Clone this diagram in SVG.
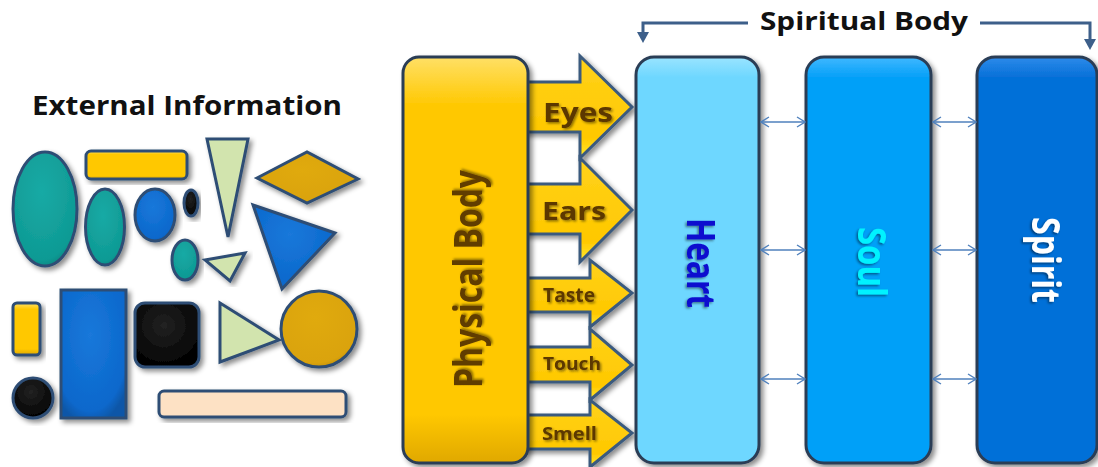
<svg xmlns="http://www.w3.org/2000/svg" width="1098" height="467" viewBox="0 0 1098 467">
<defs>
  <filter id="sh" x="-20%" y="-20%" width="140%" height="140%">
    <feDropShadow dx="3" dy="3" stdDeviation="2.5" flood-color="#000" flood-opacity="0.45"/>
  </filter>
  <filter id="tsh" x="-20%" y="-20%" width="140%" height="140%">
    <feDropShadow dx="1.5" dy="1.5" stdDeviation="1" flood-color="#000" flood-opacity="0.45"/>
  </filter>
  <linearGradient id="gGold" x1="0" y1="0" x2="0" y2="1">
    <stop offset="0" stop-color="#FFE066"/><stop offset="0.12" stop-color="#FFC800"/><stop offset="0.88" stop-color="#FFC800"/><stop offset="1" stop-color="#E0A800"/>
  </linearGradient>
  <linearGradient id="gArrow" x1="0" y1="0" x2="0" y2="1">
    <stop offset="0" stop-color="#FFD21A"/><stop offset="0.8" stop-color="#FFC800"/><stop offset="1" stop-color="#FFEA30"/>
  </linearGradient>
  <linearGradient id="gHeart" x1="0" y1="0" x2="0" y2="1">
    <stop offset="0" stop-color="#9AE4FF"/><stop offset="0.05" stop-color="#6ED7FF"/><stop offset="1" stop-color="#6ED7FF"/>
  </linearGradient>
  <linearGradient id="gSoul" x1="0" y1="0" x2="0" y2="1">
    <stop offset="0" stop-color="#40B8FF"/><stop offset="0.05" stop-color="#06A0F8"/><stop offset="1" stop-color="#06A0F8"/>
  </linearGradient>
  <linearGradient id="gSpirit" x1="0" y1="0" x2="0" y2="1">
    <stop offset="0" stop-color="#2E8BEA"/><stop offset="0.05" stop-color="#0670D8"/><stop offset="1" stop-color="#0670D8"/>
  </linearGradient>
  <radialGradient id="gTeal" cx="0.45" cy="0.35" r="0.7">
    <stop offset="0" stop-color="#19AAA5"/><stop offset="0.85" stop-color="#0E9A94"/><stop offset="1" stop-color="#0A7F7A"/>
  </radialGradient>
  <radialGradient id="gBlue" cx="0.45" cy="0.35" r="0.7">
    <stop offset="0" stop-color="#1A78DA"/><stop offset="0.85" stop-color="#0A68CC"/><stop offset="1" stop-color="#0857A8"/>
  </radialGradient>
  <radialGradient id="gBlack" cx="0.45" cy="0.35" r="0.7">
    <stop offset="0" stop-color="#222"/><stop offset="0.85" stop-color="#050505"/><stop offset="1" stop-color="#000"/>
  </radialGradient>
  <radialGradient id="gDGold" cx="0.45" cy="0.35" r="0.7">
    <stop offset="0" stop-color="#E0AA10"/><stop offset="0.85" stop-color="#DAA30A"/><stop offset="1" stop-color="#B88800"/>
  </radialGradient>
  <marker id="chev" viewBox="0 0 10 12" refX="9" refY="6" markerWidth="10" markerHeight="12" markerUnits="userSpaceOnUse" orient="auto-start-reverse">
    <path d="M1,1 L9,6 L1,11" fill="none" stroke="#4F81BD" stroke-width="1.4"/>
  </marker>
  <style>
    .shape{stroke:#2E4E74;stroke-width:3;filter:url(#sh)}
    .box{stroke:#2A3C55;stroke-width:3;filter:url(#sh)}
    .arrow{fill:url(#gArrow);stroke:#3A5A7E;stroke-width:3;stroke-linejoin:miter;filter:url(#sh)}
    .title{font-family:"Open Sans","Liberation Sans",sans-serif;font-weight:700;fill:#111}
    .sense{font-family:"Open Sans","Liberation Sans",sans-serif;font-weight:700;fill:#5C3800;filter:url(#tsh)}
    .big{font-family:"Open Sans","Liberation Sans",sans-serif;font-weight:700;font-size:40px;text-anchor:middle;filter:url(#tsh)}
    .link{stroke:#4F81BD;stroke-width:1.4;fill:none;marker-start:url(#chev);marker-end:url(#chev)}
    .brk{stroke:#3D5F8A;stroke-width:3;fill:none}
  </style>
</defs>
<rect width="1098" height="467" fill="#fff"/>

<g id="external-information">
  <text class="title" x="32" y="115" font-size="27" textLength="310" lengthAdjust="spacingAndGlyphs">External Information</text>
  <ellipse class="shape" cx="45" cy="209" rx="32" ry="57" fill="url(#gTeal)"/>
  <rect class="shape" x="86" y="151" width="101" height="28" rx="5" fill="url(#gGold)"/>
  <ellipse class="shape" cx="105" cy="227" rx="19.5" ry="38" fill="url(#gTeal)"/>
  <ellipse class="shape" cx="155" cy="215" rx="20" ry="26" fill="url(#gBlue)"/>
  <ellipse class="shape" cx="191" cy="203" rx="7" ry="13" fill="url(#gBlack)"/>
  <polygon class="shape" points="207,139 248,139 228,237" fill="#D2E4AE"/>
  <polygon class="shape" points="257,178 307,152 358,179 307,203" fill="url(#gDGold)"/>
  <polygon class="shape" points="253,205 335,233 282,289" fill="url(#gBlue)"/>
  <ellipse class="shape" cx="185" cy="260" rx="13" ry="20" fill="url(#gTeal)"/>
  <polygon class="shape" points="205,260 245,253 230,281" fill="#D2E4AE"/>
  <rect class="shape" x="13" y="303" width="27" height="52" rx="4" fill="url(#gGold)"/>
  <rect class="shape" x="61" y="290" width="65" height="128" fill="url(#gBlue)"/>
  <rect class="shape" x="135" y="303" width="64" height="64" rx="10" fill="url(#gBlack)"/>
  <polygon class="shape" points="220,303 279,340 220,362" fill="#D2E4AE"/>
  <circle class="shape" cx="319" cy="329" r="38" fill="url(#gDGold)"/>
  <circle class="shape" cx="33" cy="398" r="20" fill="url(#gBlack)"/>
  <rect class="shape" x="159" y="391" width="187" height="26" rx="5" fill="#FDE1C4"/>
</g>

<g id="sense-arrows">
  <path class="arrow" d="M515,82 H580 V56 L632,107 L580,158 V132 H515 Z"/>
  <path class="arrow" d="M515,184 H580 V158 L632,210 L580,262 V234 H515 Z"/>
  <path class="arrow" d="M515,278 H590 V260 L632,293 L590,327 V312 H515 Z"/>
  <path class="arrow" d="M515,347 H590 V329 L632,365 L590,400 V382 H515 Z"/>
  <path class="arrow" d="M515,415 H590 V400 L632,433 L590,467 V449 H515 Z"/>
</g>

<g id="physical-body">
  <rect class="box" x="403" y="57" width="125" height="406" rx="16" fill="url(#gGold)" stroke="#33506E"/>
  <text class="big" x="482" y="279" transform="rotate(-90 482 279)" fill="#603C00" font-size="38" textLength="218" lengthAdjust="spacingAndGlyphs">Physical Body</text>
</g>

<g id="sense-labels">
  <text class="sense" x="543" y="122" font-size="26" textLength="70" lengthAdjust="spacingAndGlyphs">Eyes</text>
  <text class="sense" x="542" y="220" font-size="25" textLength="64" lengthAdjust="spacingAndGlyphs">Ears</text>
  <text class="sense" x="543" y="302" font-size="19" textLength="52" lengthAdjust="spacingAndGlyphs">Taste</text>
  <text class="sense" x="543" y="370" font-size="18" textLength="58" lengthAdjust="spacingAndGlyphs">Touch</text>
  <text class="sense" x="542" y="440" font-size="18" textLength="55" lengthAdjust="spacingAndGlyphs">Smell</text>
</g>

<g id="heart">
  <rect class="box" x="636" y="57" width="123" height="406" rx="18" fill="url(#gHeart)"/>
  <text class="big" x="687" y="263" transform="rotate(90 687 263)" fill="#0A0ACF" textLength="90" lengthAdjust="spacingAndGlyphs">Heart</text>
</g>

<g id="soul">
  <rect class="box" x="806" y="57" width="125" height="406" rx="18" fill="url(#gSoul)"/>
  <text class="big" x="858" y="262" transform="rotate(90 858 262)" fill="#00F2FF" textLength="70" lengthAdjust="spacingAndGlyphs">Soul</text>
</g>

<g id="spirit">
  <rect class="box" x="977" y="57" width="120" height="406" rx="18" fill="url(#gSpirit)"/>
  <text class="big" x="1032" y="260" transform="rotate(90 1032 260)" fill="#FFFFFF" textLength="86" lengthAdjust="spacingAndGlyphs">Spirit</text>
</g>

<g id="spiritual-body-label">
  <text class="title" x="760" y="30" font-size="25" textLength="208" lengthAdjust="spacingAndGlyphs">Spiritual Body</text>
</g>

<g id="connectors">
  <path class="brk" d="M748,23 H643 V34"/>
  <polygon points="637,32 649,32 643,43" fill="#3D5F8A"/>
  <path class="brk" d="M980,23 H1090 V41"/>
  <polygon points="1084,39 1096,39 1090,50" fill="#3D5F8A"/>
  <line class="link" x1="761" y1="122" x2="805" y2="122"/>
  <line class="link" x1="761" y1="250" x2="805" y2="250"/>
  <line class="link" x1="761" y1="379" x2="805" y2="379"/>
  <line class="link" x1="933" y1="122" x2="976" y2="122"/>
  <line class="link" x1="933" y1="250" x2="976" y2="250"/>
  <line class="link" x1="933" y1="379" x2="976" y2="379"/>
</g>
</svg>
